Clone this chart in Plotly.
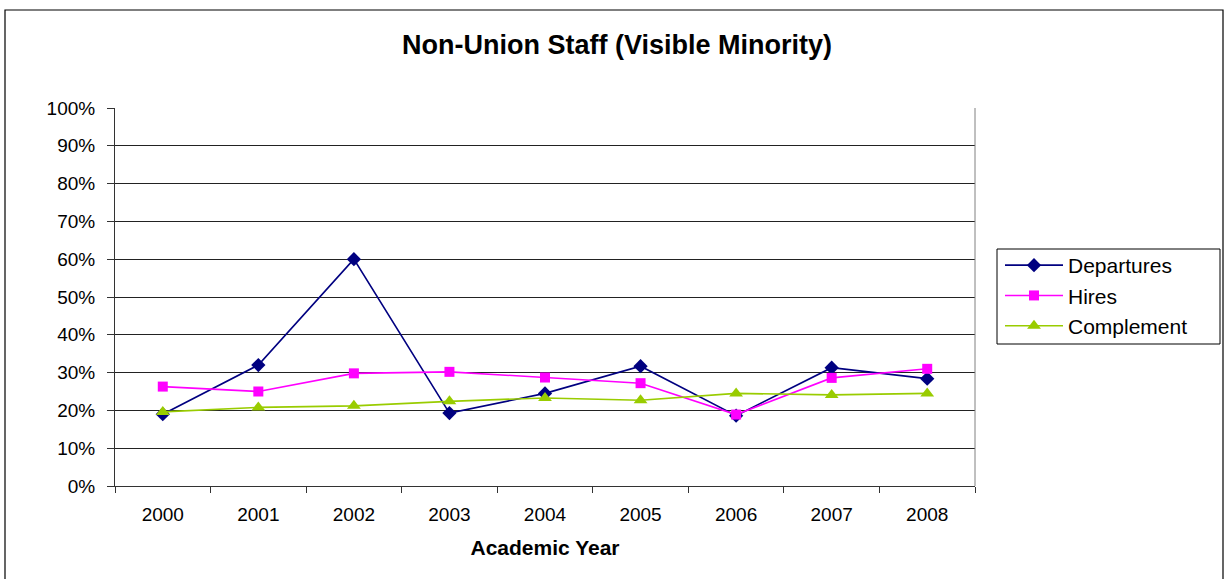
import plotly.graph_objects as go

years = ["2000", "2001", "2002", "2003", "2004", "2005", "2006", "2007", "2008"]
departures = [0.19, 0.32, 0.60, 0.193, 0.245, 0.317, 0.186, 0.313, 0.284]
hires = [0.263, 0.250, 0.298, 0.302, 0.287, 0.272, 0.189, 0.286, 0.310]
complement = [0.196, 0.208, 0.212, 0.224, 0.233, 0.227, 0.245, 0.241, 0.245]

FONT = "Liberation Sans, Arial, sans-serif"
W, H = 1225, 579
L, R, T, B = 115, 975, 108, 486  # plot area in pixels
PW, PH = R - L, B - T

def px(x):
    return (x - L) / PW

def py(y):
    return (B - y) / PH

fig = go.Figure()
fig.add_trace(go.Scatter(x=years, y=departures, name="Departures", mode="lines+markers",
                         line=dict(color="#000080", width=1.6),
                         marker=dict(symbol="diamond", size=11, color="#000080")))
fig.add_trace(go.Scatter(x=years, y=hires, name="Hires", mode="lines+markers",
                         line=dict(color="#FF00FF", width=1.6),
                         marker=dict(symbol="square", size=10, color="#FF00FF")))
fig.add_trace(go.Scatter(x=years, y=complement, name="Complement", mode="lines+markers",
                         line=dict(color="#99CC00", width=1.6),
                         marker=dict(symbol="triangle-up", size=12, color="#99CC00")))

fig.update_layout(
    width=W, height=H,
    margin=dict(l=L, r=W - R, t=T, b=H - B, pad=0),
    paper_bgcolor="white", plot_bgcolor="white",
    font=dict(family=FONT, size=18, color="black"),
    title=dict(text="<b>Non-Union Staff (Visible Minority)</b>", x=px(617), xref="paper",
               xanchor="center", y=1 - 45 / H, yanchor="middle",
               font=dict(size=27, family=FONT)),
    showlegend=True,
    legend=dict(x=px(1000), y=py(245), xanchor="left", yanchor="top",
                borderwidth=0, bgcolor="rgba(0,0,0,0)",
                font=dict(size=21, family=FONT), itemwidth=58, tracegroupgap=0),
    xaxis=dict(type="category", range=[-0.5, 8.5], tickson="boundaries",
               ticks="outside", ticklen=6, tickcolor="#333", showgrid=False,
               showline=True, linecolor="#333", linewidth=1, mirror=False,
               tickfont=dict(size=19), fixedrange=True, ticklabelstandoff=11,
               title=dict(text="<b>Academic Year</b>", font=dict(size=21), standoff=16)),
    yaxis=dict(range=[0, 1], dtick=0.1, tickformat=".0%", ticks="outside", ticklen=7,
               tickcolor="#333", showgrid=True, gridcolor="#222", gridwidth=1,
               showline=True, linecolor="#333", linewidth=1, zeroline=False,
               tickfont=dict(size=19), fixedrange=True, ticklabelstandoff=8),
)

# plot-area right border
fig.add_shape(type="line", xref="paper", yref="paper", x0=1, x1=1, y0=0, y1=1,
              line=dict(color="#808080", width=1))
# legend box
fig.add_shape(type="rect", xref="paper", yref="paper",
              x0=px(997), x1=px(1220), y0=py(344), y1=py(249),
              line=dict(color="black", width=1), fillcolor="white", layer="below")
# outer chart border
fig.add_shape(type="rect", xref="paper", yref="paper",
              x0=px(5), x1=px(1223), y0=py(600), y1=py(10),
              line=dict(color="black", width=1.2), layer="below")

fig.write_html("out.html", config={"displayModeBar": False},
               post_script="document.body.style.margin='0';document.body.style.overflow='hidden';")
